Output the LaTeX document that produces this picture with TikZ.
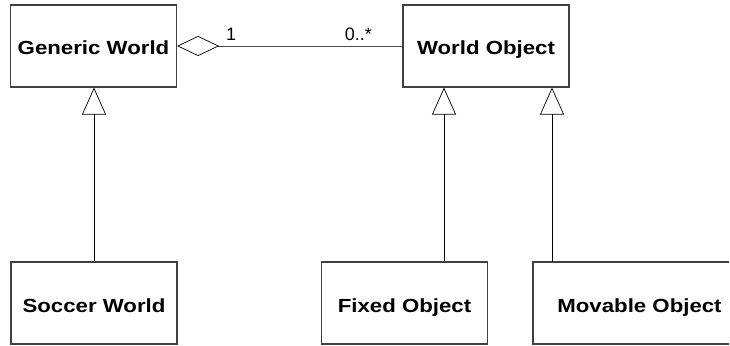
\documentclass[tikz,border=0pt]{standalone}
\usepackage{fontspec}
\setmainfont{Liberation Sans}
\usepackage{graphicx}
\usetikzlibrary{arrows.meta}
\newcommand{\widetxt}[1]{\scalebox{1.17}[1]{#1}}
\tikzset{
  boxline/.style={draw=black!75, line width=1.1pt},
  classbox/.style={boxline, rectangle, inner sep=0pt,
    minimum width=166pt, minimum height=82pt, text height=18pt, text depth=0pt,
    font=\fontsize{19}{19}\selectfont\bfseries},
  genline/.style={draw=black, line width=0.7pt,
    -{Triangle[open, length=27pt, width=24pt, line width=0.7pt]}},
  aggline/.style={draw=black!70, line width=0.9pt,
    {Diamond[open, length=42pt, width=20pt, line width=0.7pt, color=black]}-},
  mult/.style={inner sep=0pt, font=\fontsize{18}{18}\selectfont}
}
\begin{document}
\begin{tikzpicture}[x=1pt, y=-1pt]
\useasboundingbox (0,0) rectangle (730,345);
\node[classbox] (GW) at (93.5,46) {\widetxt{Generic World}};
\node[classbox] (WO) at (486,46) {\widetxt{World Object}};
\node[classbox] (SW) at (94,303) {\widetxt{Soccer World}};
\node[classbox] (FO) at (404.5,303) {\widetxt{Fixed Object}};
\node[classbox, draw=none, outer sep=0pt, minimum width=196pt] (MO) at (631,303) {\hspace{17pt}\widetxt{Movable Object}};
\draw[boxline] (MO.north east) -- (MO.north west) -- (MO.south west) -- (MO.south east);
\draw[aggline] (GW.east) -- (WO.west);
\node[mult, anchor=base west] (m1) at (226,41) {1};
\node[mult, anchor=base east] (m2) at (372,41) {0..*};
\draw[genline] (SW.north) -- (SW.north |- GW.south);
\coordinate (fotop) at ([xshift=39.5pt]FO.north);
\coordinate (motop) at ([xshift=19pt]MO.north west);
\draw[genline] (fotop) -- (fotop |- WO.south);
\draw[genline] (motop) -- (motop |- WO.south);
\end{tikzpicture}
\end{document}
